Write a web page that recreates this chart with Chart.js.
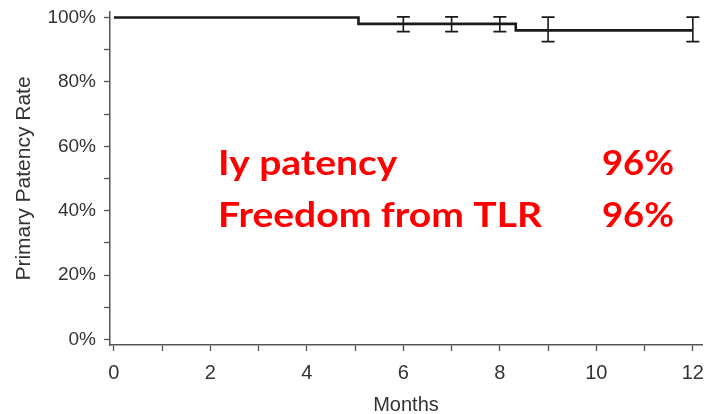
<!DOCTYPE html>
<html>
<head>
<meta charset="utf-8">
<script src="https://cdn.jsdelivr.net/npm/chart.js@4"></script>
<style>
html,body{margin:0;padding:0;background:#fff;}
#wrap{width:707px;height:414px;position:relative;}
</style>
</head>
<body>
<div id="wrap"><canvas id="c"></canvas></div>
<script>
// Kaplan-Meier step curve (months, primary patency %)
const stepMonths = [0, 5.07, 8.33, 12];
const stepPatency = [100, 98, 96, 96];
// Error bars at follow-up visits
const errMonths = [6, 7, 8, 9, 12];
const errLow = [95.6, 95.6, 95.6, 92.5, 92.5];
const errHigh = [100.2, 100.2, 100.2, 100.1, 100.1];
// Axis ticks
const xTicks = [0,1,2,3,4,5,6,7,8,9,10,11,12];
const xLabels = ['0','','2','','4','','6','','8','','10','','12'];
const yTicks = [0,10,20,30,40,50,60,70,80,90,100];
const yLabels = ['0%','','20%','','40%','','60%','','80%','','100%'];
// Annotation text
const noteLabels = ['Iy patency', 'Freedom from TLR'];
const noteValues = ['96%', '96%'];

const errorBarPlugin = {
  id: 'errorBars',
  afterDatasetsDraw(chart) {
    const {ctx, scales: {x, y}} = chart;
    ctx.save();
    ctx.strokeStyle = '#1a1a1a';
    ctx.lineWidth = 1.6;
    for (let i = 0; i < errMonths.length; i++) {
      const px = x.getPixelForValue(errMonths[i]);
      const lo = y.getPixelForValue(errLow[i]);
      const hi = y.getPixelForValue(errHigh[i]);
      ctx.beginPath();
      ctx.moveTo(px, lo); ctx.lineTo(px, hi);
      ctx.moveTo(px - 6.5, lo); ctx.lineTo(px + 6.5, lo);
      ctx.moveTo(px - 6.5, hi); ctx.lineTo(px + 6.5, hi);
      ctx.stroke();
    }
    ctx.restore();
  }
};

function drawStretched(ctx, text, x, y, targetWidth, refWidth) {
  const sx = targetWidth / refWidth;
  ctx.save();
  ctx.translate(x, y);
  ctx.scale(sx, 1);
  ctx.fillText(text, 0, 0);
  ctx.restore();
}

const notePlugin = {
  id: 'notes',
  afterDraw(chart) {
    const ctx = chart.ctx;
    ctx.save();
    ctx.fillStyle = '#ff0000';
    ctx.font = 'bold 35px Lato';
    ctx.textBaseline = 'alphabetic';
    ctx.textAlign = 'left';
    const labelRef = ctx.measureText(noteLabels[1]).width;
    const valueRef = ctx.measureText(noteValues[1]).width;
    const baselines = [175, 227];
    for (let i = 0; i < noteLabels.length; i++) {
      drawStretched(ctx, noteLabels[i], 218, baselines[i], 324, labelRef);
      drawStretched(ctx, noteValues[i], 602, baselines[i], 72, valueRef);
    }
    ctx.restore();
  }
};

const tickFontColor = '#333';
new Chart(document.getElementById('c'), {
  type: 'line',
  data: {
    datasets: [{
      data: stepMonths.map((m, i) => ({x: m, y: stepPatency[i]})),
      stepped: true,
      borderColor: '#1a1a1a',
      borderWidth: 2.6,
      pointRadius: 0,
      fill: false
    }]
  },
  options: {
    responsive: true,
    maintainAspectRatio: false,
    animation: false,
    layout: {padding: {top: 12, right: 5, left: 0, bottom: 0}},
    plugins: {legend: {display: false}, tooltip: {enabled: false}},
    scales: {
      x: {
        type: 'linear',
        min: -0.08,
        max: 12.19,
        afterBuildTicks(s) { s.ticks = xTicks.map(v => ({value: v})); },
        afterFit(s) { s.height = 69; s.paddingLeft = 0; s.paddingRight = 0; },
        ticks: {
          autoSkip: false,
          maxRotation: 0,
          padding: 10,
          color: tickFontColor,
          font: {family: 'Liberation Sans', size: 20},
          callback: (v, i) => xLabels[i]
        },
        grid: {drawOnChartArea: false, drawTicks: true, tickLength: 6, color: '#555', tickWidth: 1.3},
        border: {display: true, color: '#555', width: 1.5},
        title: {
          display: true, text: 'Months', color: tickFontColor,
          font: {family: 'Liberation Sans', size: 20, lineHeight: 0.9},
          padding: {top: 0, bottom: 0}
        }
      },
      y: {
        type: 'linear',
        min: -1.7,
        max: 101.7,
        afterBuildTicks(s) { s.ticks = yTicks.map(v => ({value: v})); },
        afterFit(s) { s.width = 110; s.paddingTop = 0; s.paddingBottom = 0; },
        ticks: {
          autoSkip: false,
          padding: 8,
          color: tickFontColor,
          font: {family: 'Liberation Sans', size: 19},
          callback: (v, i) => yLabels[i]
        },
        grid: {drawOnChartArea: false, drawTicks: true, tickLength: 6, color: '#555', tickWidth: 1.3},
        border: {display: true, color: '#555', width: 1.5},
        title: {
          display: true, text: 'Primary Patency Rate', color: tickFontColor,
          font: {family: 'Liberation Sans', size: 21, lineHeight: 1.2},
          padding: {top: 12, bottom: 0}
        }
      }
    }
  },
  plugins: [errorBarPlugin, notePlugin]
});
</script>
</body>
</html>
